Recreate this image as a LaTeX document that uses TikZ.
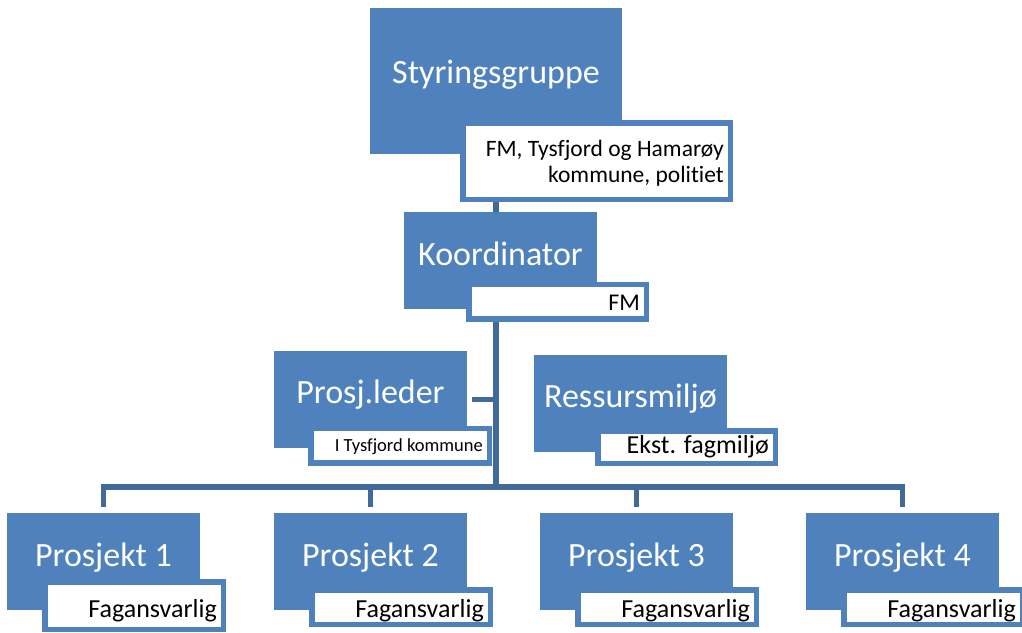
\documentclass[tikz,border=0pt]{standalone}
\usepackage{fontspec}
\setmainfont{Carlito}[Ligatures=NoCommon]
\usetikzlibrary{backgrounds}
\definecolor{boxblue}{HTML}{4F81BD}
\definecolor{linkblue}{HTML}{41699C}

\begin{document}
\begin{tikzpicture}[
  x=1pt, y=-1pt,
  mainbox/.style={rectangle, fill=boxblue, minimum width=193pt, minimum height=97pt, inner sep=0pt, outer sep=0pt},
  subbox/.style={rectangle, draw=boxblue, line width=5.5pt, fill=white, minimum width=178.5pt, minimum height=34.5pt, inner sep=0pt, outer sep=0pt},
  maintext/.style={anchor=base, inner sep=0pt, text=white, font=\fontsize{34}{40}\selectfont},
  subtext/.style={anchor=base east, inner sep=0pt, font=\fontsize{26}{30}\selectfont},
  link/.style={draw=linkblue, line width=5.5pt}
]
  \useasboundingbox (0,0) rectangle (1022,632);

  % Styringsgruppe (top)
  \node[mainbox, minimum width=252pt, minimum height=146pt] (styr) at (496,81) {};
  \node[subbox, minimum width=267.5pt, minimum height=76.5pt] (styrsub) at (596.5,161) {};
  \node[maintext] (styrtxt) at (496,83) {Styringsgruppe};
  \node[subtext, align=right, font=\fontsize{23.5}{26}\selectfont] (styrsubtxt) at (724,182) {FM, Tysfjord og Hamarøy\\kommune, politiet};

  % Koordinator
  \node[mainbox] (koord) at (500.5,260.5) {};
  \node[subbox, minimum width=177.5pt] (koordsub) at (557.5,301.5) {};
  \node[maintext] (koordtxt) at (500.5,265) {Koordinator};
  \node[subtext, font=\fontsize{24}{28}\selectfont] (koordsubtxt) at (640,310) {FM};

  % Prosjektleder and ressursmiljø (middle)
  \node[mainbox] (leder) at (370.5,399.5) {};
  \node[subbox] (ledersub) at (400,445.5) {};
  \node[maintext] (ledertxt) at (370.5,403) {Prosj.leder};
  \node[subtext, font=\fontsize{18.5}{22}\selectfont] (ledersubtxt) at (483,451) {I Tysfjord kommune};

  \node[mainbox] (ressurs) at (630.5,403) {};
  \node[subbox, minimum width=177.5pt, minimum height=32.5pt] (ressurssub) at (686.5,447) {};
  \node[maintext] (ressurstxt) at (630.5,407) {Ressursmiljø};
  \node[subtext] (ressurssubtxt) at (769,453) {Ekst. fagmiljø};

  % Prosjekter (bottom)
  \foreach \i/\x/\sy/\sh in {1/103.5/605.5/47.5, 2/370.5/607/34.5, 3/636.5/607/34.5, 4/902.5/607/34.5} {
    \node[mainbox] (p\i) at (\x,561.5) {};
    \node[subbox, minimum height=\sh pt] (sub\i) at (\x+30.5,\sy) {};
    \node[maintext] (txt\i) at (\x,566) {Prosjekt \i};
    \node[subtext] (subtxt\i) at (\x+113.5,617) {Fagansvarlig};
  }

  % Connectors
  \coordinate (bus) at (496,487);
  \begin{pgfonlayer}{background}
    \draw[link] (styr.center) -- (bus);
    \draw[link, shorten <=5pt] (leder.east) -- (leder.east -| bus);
    \foreach \i in {1,...,4}
      \draw[link, shorten >=6pt] (bus) -| (p\i.north);
  \end{pgfonlayer}
\end{tikzpicture}
\end{document}
